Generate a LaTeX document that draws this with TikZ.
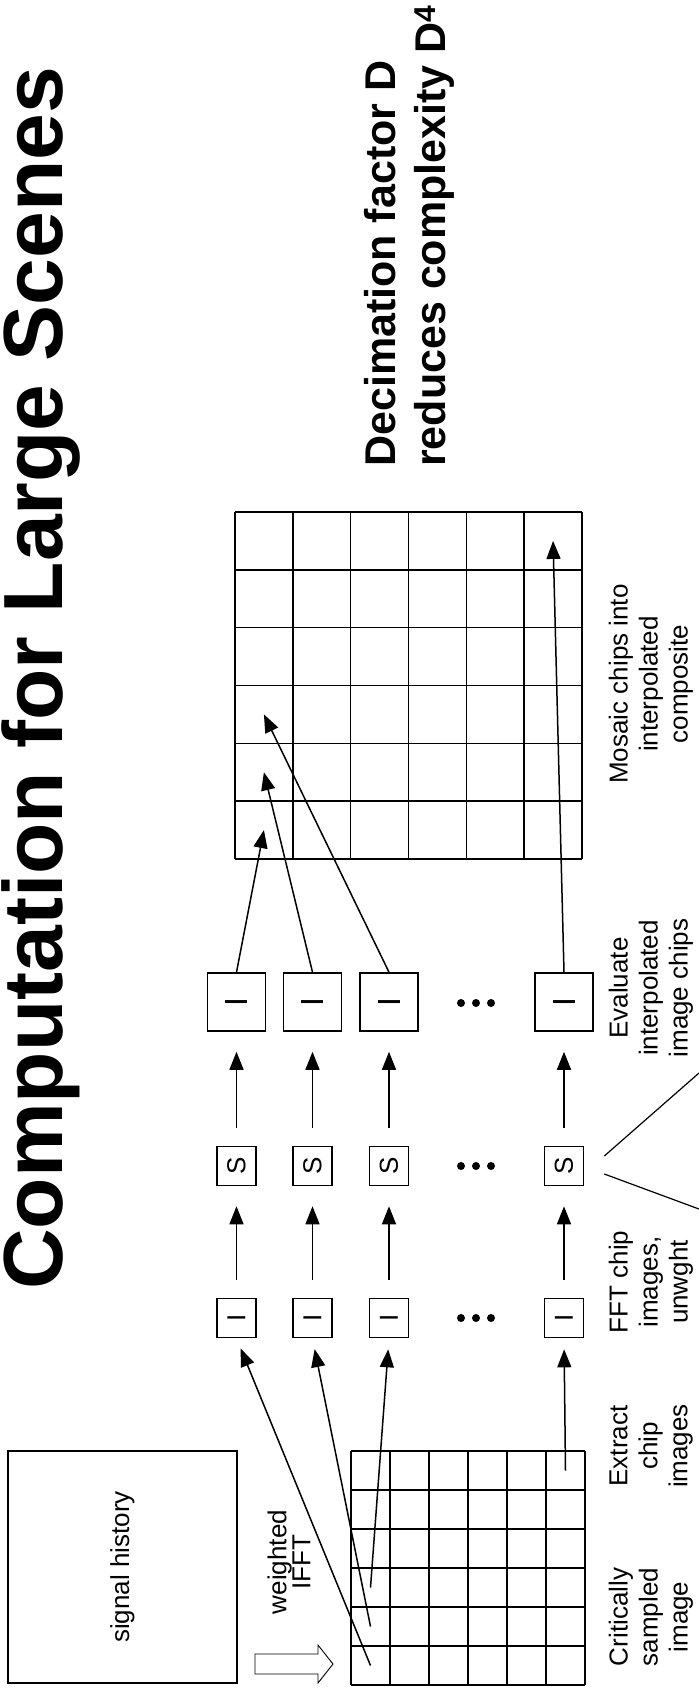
\documentclass[tikz,border=0pt]{standalone}
\usepackage{fontspec}
\setmainfont{Liberation Sans}
\usepackage{graphicx}
\usetikzlibrary{arrows.meta,positioning}

\newcommand{\turned}[1]{\rotatebox{90}{#1}}

\begin{document}
\begin{tikzpicture}[x=1pt, y=-1pt,
    box/.style={draw, line width=1.6pt, inner sep=0pt, font=\fontsize{26}{26}\selectfont},
    chip/.style={box, minimum size=39pt},
    bigchip/.style={box, minimum size=58pt, font=\fontsize{32}{32}\selectfont},
    labeltext/.style={rotate=90, align=center, inner sep=0pt, font=\fontsize{26}{30}\selectfont},
    flow/.style={line width=1.5pt, -{Triangle[length=18pt,width=14pt]}},
    gapflow/.style={flow, shorten <=18pt, shorten >=20pt},
    gridline/.style={line width=1.6pt}]
    \useasboundingbox (0,0) rectangle (699,1690);

    % Title
    \node[rotate=90, anchor=base west, inner sep=0pt, font=\bfseries\fontsize{84}{90}\selectfont] (title) at (62,1290) {Computation for Large Scenes};

    % Decimation note
    \node[rotate=90, anchor=base west, inner sep=0pt, font=\bfseries\fontsize{43}{50}\selectfont] (note1) at (395,467) {Decimation factor D};
    \node[rotate=90, anchor=base west, inner sep=0pt, font=\bfseries\fontsize{43}{50}\selectfont] (note2) at (445,467) {reduces complexity D\textsuperscript{4}};

    % Signal history
    \node[draw, line width=1.3pt, rotate=90, minimum width=232pt, minimum height=229pt, font=\fontsize{26}{26}\selectfont] (history) at (122.5,1567) {signal history};
    \draw[line width=0.9pt] (255,1654) -- (318,1654) -- (318,1645) -- (333,1664) -- (318,1683) -- (318,1674) -- (255,1674) -- cycle;
    \node[labeltext, font=\fontsize{26}{24}\selectfont] (ifft) at (289,1562) {weighted\\IFFT};

    % Critically sampled image
    \foreach \k in {0,...,6} {
        \draw[gridline] ({351+39*\k},1451) -- ++(0,234);
        \draw[gridline] (351,{1451+39*\k}) -- ++(234,0);
    }
    \foreach \i in {1,...,6}
        \foreach \j in {1,...,6}
            \coordinate (L-\i-\j) at ({351+39*\i-19.5},{1451+39*\j-19.5});

    % Interpolated composite
    \foreach \k in {0,...,6} {
        \draw[gridline] ({235+57.83*\k},512) -- ++(0,347);
        \draw[gridline] (235,{512+57.83*\k}) -- ++(347,0);
    }
    \foreach \i in {1,...,6}
        \foreach \j in {1,...,6}
            \coordinate (R-\i-\j) at ({235+57.83*\i-28.92},{512+57.83*\j-28.92});

    % Chip pipelines
    \foreach \x [count=\k] in {236.5,312.5,389,564} {
        \node[chip] (fi\k) at (\x,1318) {\turned{I}};
        \node[chip] (s\k) at (\x,1166) {\turned{S}};
        \node[bigchip] (bi\k) at (\x,1002) {\turned{I}};
        \draw[gapflow] (fi\k) -- (s\k);
        \draw[gapflow] (s\k) -- (bi\k);
    }
    \foreach \r in {1003,1166,1318}
        \foreach \d in {-15,0,15}
            \fill ({476+\d},\r) circle (4pt);

    % Extract chips
    \draw[flow, shorten >=11pt] (L-1-6) -- (fi1.south);
    \draw[flow, shorten >=11pt] (L-1-5) -- (fi2.south);
    \draw[flow, shorten >=11pt] (L-1-4) -- (fi3.south);
    \draw[flow, shorten >=11pt] (L-6-1) -- (fi4.south);

    % Mosaic chips
    \draw[flow] (bi1.north) -- (R-1-6);
    \draw[flow] (bi2.north) -- (R-1-5);
    \draw[flow] (bi3.north) -- (R-1-4);
    \draw[flow] (bi4.north) -- (R-6-1);

    % Callout from S
    \coordinate (edgeA) at (699,1073);
    \coordinate (edgeB) at (699,1209);
    \draw[line width=1.2pt] ([shift={(20,-10)}]s4.east) -- (edgeA);
    \draw[line width=1.2pt] ([shift={(20,8)}]s4.east) -- (edgeB);

    % Step labels
    \node[labeltext] (critical) at (651,1617) {Critically\\sampled\\image};
    \node[labeltext] (extract) at (651,1446) {Extract\\chip\\images};
    \node[labeltext] (fft) at (651,1282) {FFT chip\\images,\\unwght};
    \node[labeltext] (evaluate) at (651,988) {Evaluate\\interpolated\\image chips};
    \node[labeltext] (mosaic) at (651,684) {Mosaic chips into\\interpolated\\composite};
\end{tikzpicture}
\end{document}
